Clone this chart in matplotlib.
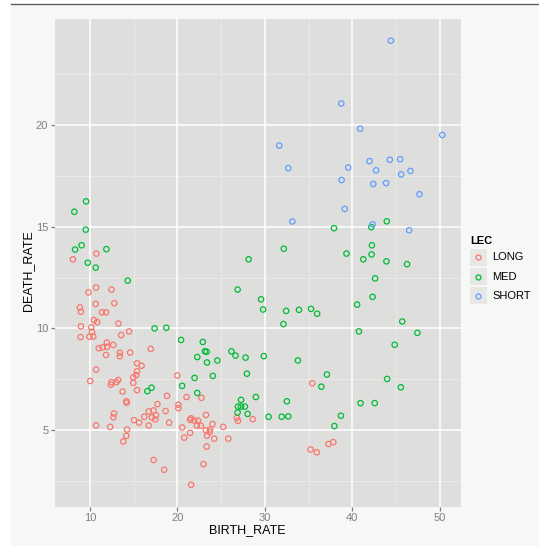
import matplotlib
matplotlib.use("Agg")
import matplotlib.pyplot as plt
from matplotlib.patches import Rectangle
from matplotlib.lines import Line2D
import numpy as np

plt.rcParams['font.family'] = ['Liberation Sans', 'DejaVu Sans']

# ---- data ------------------------------------------------------------
long_birth = [8.07, 10.75, 9.84, 10.71, 12.48, 8.86, 8.98, 10.67, 12.80, 11.38,
              11.85, 10.47, 10.83, 13.27, 8.98, 10.16, 10.24, 9.96, 10.39, 8.94,
              13.58, 14.49, 16.97, 11.02, 11.46, 11.93, 11.97, 12.68, 11.85, 13.43,
              13.43, 14.61, 15.39, 15.91, 15.39, 15.31, 14.96, 10.71, 10.04, 13.23,
              13.03, 12.48, 12.40, 14.96, 15.39, 13.74, 14.17, 14.21, 18.82, 20.00,
              21.06, 22.76, 20.12, 20.12, 17.72, 16.73, 17.28, 18.66, 16.22, 17.09,
              17.56, 17.48, 12.76, 12.68, 15.04, 15.63, 19.06, 16.73, 10.71, 12.32,
              14.25, 14.17, 13.82, 17.28, 18.50, 21.57, 22.99, 20.55, 21.46, 21.57,
              21.93, 22.36, 22.24, 22.68, 23.27, 23.74, 23.70, 24.02, 23.27, 23.39,
              21.46, 20.79, 24.21, 23.35, 25.24, 25.83, 26.81, 26.93, 28.62, 35.43,
              35.24, 35.94, 37.28, 37.83]
long_death = [13.40, 13.68, 11.77, 12.01, 11.91, 11.03, 10.82, 11.20, 11.24, 10.79,
              10.79, 10.41, 10.31, 10.24, 10.10, 10.05, 9.83, 9.59, 9.60, 9.57,
              9.67, 9.85, 8.99, 9.02, 9.07, 9.30, 9.09, 9.19, 8.69, 8.80,
              8.63, 8.81, 8.28, 8.16, 7.89, 7.70, 7.59, 7.97, 7.41, 7.46,
              7.35, 7.35, 7.23, 7.32, 6.96, 6.89, 6.41, 6.34, 6.68, 7.68,
              6.62, 6.58, 6.24, 6.07, 6.27, 5.91, 5.96, 5.93, 5.65, 5.62,
              5.72, 5.52, 5.81, 5.62, 5.48, 5.36, 5.36, 5.22, 5.22, 5.15,
              5.02, 4.71, 4.43, 3.52, 3.04, 2.30, 3.32, 5.12, 5.50, 5.57,
              5.46, 5.46, 5.21, 5.21, 4.98, 5.02, 4.90, 5.29, 5.74, 4.72,
              4.86, 4.62, 4.57, 4.18, 5.15, 4.57, 5.60, 5.45, 5.53, 7.30,
              4.04, 3.90, 4.31, 4.40]

med_birth = [9.57, 8.23, 9.53, 9.06, 8.31, 11.89, 9.76, 10.67, 14.33, 17.40,
             18.74, 20.43, 22.91, 23.15, 23.35, 22.28, 23.39, 24.57, 26.18, 26.65,
             27.80, 29.88, 21.97, 24.06, 27.95, 20.55, 17.05, 16.57, 22.28, 28.98,
             27.28, 26.93, 27.28, 27.72, 26.89, 28.03, 30.43, 31.93, 32.68, 32.52,
             26.89, 28.15, 29.57, 29.80, 32.44, 33.90, 35.28, 35.98, 32.17, 32.13,
             33.78, 37.09, 36.46, 37.91, 39.33, 41.26, 42.24, 42.20, 42.17, 43.94,
             43.90, 46.26, 42.60, 42.32, 40.55, 40.75, 45.71, 47.44, 44.84, 43.98,
             45.55, 40.94, 42.56, 38.70, 37.95]
med_death = [16.25, 15.74, 14.86, 14.09, 13.88, 13.90, 13.23, 12.99, 12.35, 10.00,
             10.03, 9.43, 9.33, 8.87, 8.85, 8.59, 8.32, 8.42, 8.87, 8.66,
             8.56, 8.63, 7.56, 7.66, 7.77, 7.17, 7.08, 6.91, 6.82, 6.62,
             6.48, 6.15, 6.15, 6.15, 5.86, 5.79, 5.65, 5.65, 5.67, 6.41,
             11.91, 13.40, 11.43, 10.93, 10.86, 10.91, 10.96, 10.72, 13.92, 10.21,
             8.42, 7.73, 7.13, 14.93, 13.68, 13.40, 14.09, 13.64, 14.98, 15.27,
             13.30, 13.16, 12.46, 11.55, 11.17, 9.85, 10.34, 9.78, 9.19, 7.51,
             7.10, 6.32, 6.32, 5.70, 5.19]

short_birth = [44.40, 38.74, 40.90, 50.28, 31.65, 32.68, 41.97, 44.29, 45.47, 39.53,
               42.72, 46.65, 38.78, 42.40, 43.86, 45.59, 47.68, 39.13, 33.15, 42.32,
               46.50]
short_death = [24.16, 21.07, 19.83, 19.52, 19.00, 17.89, 18.23, 18.30, 18.33, 17.92,
               17.78, 17.75, 17.30, 17.11, 17.15, 17.58, 16.60, 15.88, 15.26, 15.12,
               14.83]

groups = ["LONG", "MED", "SHORT"]
group_colors = ["#F8766D", "#00BA38", "#619CFF"]
series = [(long_birth, long_death), (med_birth, med_death), (short_birth, short_death)]

x_ticks = [10, 20, 30, 40, 50]
y_ticks = [5, 10, 15, 20]
x_minor = [15, 25, 35, 45]
y_minor = [2.5, 7.5, 12.5, 17.5, 22.5]

# ---- figure ----------------------------------------------------------
W, H = 539, 546
fig = plt.figure(figsize=(W / 100, H / 100), dpi=100, facecolor="white")

# page backdrop and top rule
fig.patches.append(Rectangle((11 / W, 0), 1 - 11 / W, 1 - 4 / H, transform=fig.transFigure,
                             facecolor="#F5F8F5", edgecolor="none", zorder=-10))
fig.lines.append(Line2D([11 / W, 1], [1 - 3.5 / H] * 2, transform=fig.transFigure,
                        color="#5E5E5E", lw=1.0))

left, right, top, bottom = 54.5, 460.7, 18.5, 507.0
ax = fig.add_axes([left / W, 1 - bottom / H, (right - left) / W, (bottom - top) / H])
ax.set_facecolor("#DEDFDD")
for s in ax.spines.values():
    s.set_visible(False)

for (bx, dy), c in zip(series, group_colors):
    ax.scatter(bx, dy, s=15, facecolors="none", edgecolors=c, linewidths=0.9, zorder=3)

# axis ranges with 5% expansion
all_x = np.concatenate([np.asarray(s[0]) for s in series])
all_y = np.concatenate([np.asarray(s[1]) for s in series])
dx = (all_x.max() - all_x.min()) * 0.05
dy_ = (all_y.max() - all_y.min()) * 0.05
ax.set_xlim(all_x.min() - dx, all_x.max() + dx)
ax.set_ylim(all_y.min() - dy_, all_y.max() + dy_)

# grid
for v in x_minor:
    ax.axvline(v, color="#EAEBE9", lw=0.6, zorder=1)
for v in y_minor:
    ax.axhline(v, color="#EAEBE9", lw=0.6, zorder=1)
for v in x_ticks:
    ax.axvline(v, color="white", lw=1.1, zorder=2)
for v in y_ticks:
    ax.axhline(v, color="white", lw=1.1, zorder=2)

ax.set_xticks(x_ticks)
ax.set_yticks(y_ticks)
ax.set_xticklabels([str(t) for t in x_ticks])
ax.set_yticklabels([str(t) for t in y_ticks])
ax.tick_params(axis="both", colors="#7F7F7F", labelcolor="#7F7F7F", length=3,
               width=0.9, labelsize=8, pad=1.5)

fig.text(247.7 / W, 1 - 530.5 / H, "BIRTH_RATE", ha="center", va="center",
         fontsize=9, color="black")
fig.text(27.8 / W, 1 - 270.5 / H, "DEATH_RATE", ha="center", va="center",
         rotation=90, fontsize=9, color="black")

# legend
fig.text(470 / W, 1 - 240.7 / H, "LEC", ha="left", va="center", fontsize=8,
         fontweight="bold", color="black")
key_w, key_h = 16.7, 17.3
key_centers = [257.3, 276.6, 295.6]
for name, c, yc in zip(groups, group_colors, key_centers):
    fig.patches.append(Rectangle((470 / W, 1 - (yc + key_h / 2) / H), key_w / W, key_h / H,
                                 transform=fig.transFigure, facecolor="#E7E8E6",
                                 edgecolor="none"))
    fig.lines.append(Line2D([(470 + key_w / 2) / W], [1 - yc / H], transform=fig.transFigure,
                            marker="o", markersize=3.6, markerfacecolor="none",
                            markeredgecolor=c, markeredgewidth=0.9, linestyle="none"))
    fig.text(492.3 / W, 1 - yc / H, name, ha="left", va="center", fontsize=8, color="black")

fig.savefig("out.png", dpi=100)
